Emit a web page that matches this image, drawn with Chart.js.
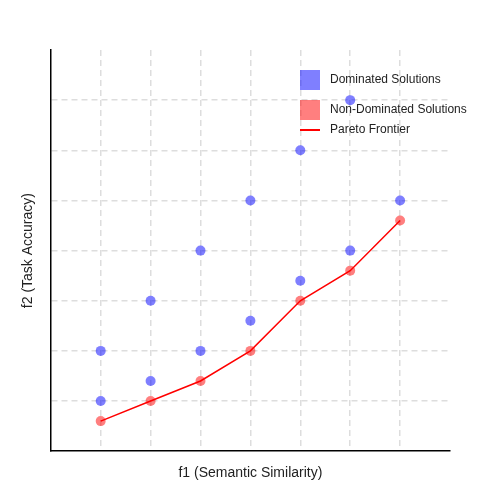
<!DOCTYPE html>
<html>
<head>
<meta charset="utf-8">
<script src="https://cdn.jsdelivr.net/npm/chart.js@4/dist/chart.umd.min.js"></script>
<style>
  html, body { margin: 0; padding: 0; background: #fff; }
  #wrap { width: 500px; height: 500px; }
</style>
</head>
<body>
<div id="wrap"><canvas id="grafica"></canvas></div>
<script>
// puntos dominados (f1, f2)
const dominatedX = [1, 1, 2, 2, 3, 3, 4, 4, 5, 5, 6, 6, 7];
const dominatedY = [1, 2, 1.4, 3, 2, 4, 2.6, 5, 3.4, 6, 4, 7, 5];
// frontera de Pareto
const paretoX = [1, 2, 3, 4, 5, 6, 7];
const paretoY = [0.6, 1, 1.4, 2, 3, 3.6, 4.6];

const legendItems = [
  { label: 'Dominated Solutions', type: 'box', color: 'rgba(0,0,255,0.5)', gap: 30 },
  { label: 'Non-Dominated Solutions', type: 'box', color: 'rgba(255,0,0,0.5)', gap: 20 },
  { label: 'Pareto Frontier', type: 'line', color: '#ff0000', gap: 20 }
];

// leyenda dentro del área del gráfico
const insideLegend = {
  id: 'insideLegend',
  afterDraw(chart) {
    const ctx = chart.ctx;
    const x0 = chart.chartArea.right - 150;
    let y0 = chart.chartArea.top + 30;
    ctx.save();
    ctx.font = '12px "Liberation Sans", Arial, sans-serif';
    ctx.textBaseline = 'middle';
    legendItems.forEach(item => {
      if (item.type === 'box') {
        ctx.fillStyle = item.color;
        ctx.fillRect(x0, y0 - 10, 20, 20);
      } else {
        ctx.strokeStyle = item.color;
        ctx.lineWidth = 2;
        ctx.beginPath();
        ctx.moveTo(x0, y0);
        ctx.lineTo(x0 + 20, y0);
        ctx.stroke();
      }
      ctx.fillStyle = '#222';
      ctx.fillText(item.label, x0 + 30, y0);
      y0 += item.gap;
    });
    ctx.restore();
  }
};

const gridColor = c => (c.tick.value <= 0 || c.tick.value >= 8) ? 'rgba(0,0,0,0)' : '#dddddd';

const ctx = document.getElementById('grafica').getContext('2d');
new Chart(ctx, {
  type: 'scatter',
  data: {
    datasets: [
      {
        label: 'Pareto Frontier',
        type: 'line',
        data: paretoX.map((x, i) => ({ x: x, y: paretoY[i] })),
        borderColor: '#ff0000',
        borderWidth: 1.5,
        pointRadius: 0,
        fill: false,
        order: 0
      },
      {
        label: 'Non-Dominated Solutions',
        data: paretoX.map((x, i) => ({ x: x, y: paretoY[i] })),
        backgroundColor: 'rgba(255,0,0,0.5)',
        borderWidth: 0,
        pointRadius: 5,
        order: 1
      },
      {
        label: 'Dominated Solutions',
        data: dominatedX.map((x, i) => ({ x: x, y: dominatedY[i] })),
        backgroundColor: 'rgba(0,0,255,0.5)',
        borderWidth: 0,
        pointRadius: 5,
        order: 2
      }
    ]
  },
  options: {
    responsive: true,
    maintainAspectRatio: false,
    animation: false,
    layout: { padding: { left: 16, top: 50, right: 50, bottom: 14 } },
    plugins: { legend: { display: false }, tooltip: { enabled: false } },
    scales: {
      x: {
        min: 0, max: 8,
        ticks: { display: false, stepSize: 1 },
        grid: { color: gridColor, drawTicks: false, lineWidth: 1.5 },
        border: { display: true, color: '#000', width: 1.5, dash: [6, 4] },
        title: { display: true, text: 'f1 (Semantic Similarity)', color: '#222',
                 font: { size: 14, family: '"Liberation Sans", Arial, sans-serif' }, padding: { top: 14 } }
      },
      y: {
        min: 0, max: 8,
        ticks: { display: false, stepSize: 1 },
        grid: { color: gridColor, drawTicks: false, lineWidth: 1.5 },
        border: { display: true, color: '#000', width: 1.5, dash: [6, 4] },
        title: { display: true, text: 'f2 (Task Accuracy)', color: '#222',
                 font: { size: 14, family: '"Liberation Sans", Arial, sans-serif' }, padding: { bottom: 14 } }
      }
    }
  },
  plugins: [insideLegend]
});
</script>
</body>
</html>
